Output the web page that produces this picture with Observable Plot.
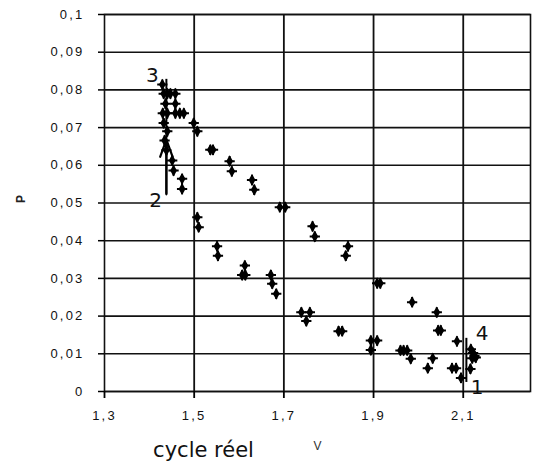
<!DOCTYPE html>
<html><head><meta charset="utf-8">
<script src="https://cdn.jsdelivr.net/npm/d3@7"></script>
<script src="https://cdn.jsdelivr.net/npm/@observablehq/plot@0.6"></script>
<style>
body{margin:0;background:#fff}
svg{display:block}
</style>
</head><body><div id="chart"></div>
<script>
// Measured points of the cycle (V, P)
const vValues = [1.429,1.432,1.440,1.447,1.458,1.436,1.458,1.430,1.440,1.458,1.468,1.477,1.432,1.499,1.440,1.507,1.434,1.438,1.536,1.542,1.451,1.454,1.473,1.473,1.579,1.584,1.629,1.634,1.691,1.703,1.507,1.510,1.551,1.553,1.613,1.607,1.614,1.671,1.674,1.683,1.764,1.769,1.843,1.838,1.908,1.915,1.739,1.758,1.750,1.822,1.830,1.894,1.908,1.894,1.986,2.041,2.044,2.050,2.086,1.960,1.967,1.975,1.983,2.032,2.021,2.075,2.084,2.095,2.116,2.117,2.122,2.125,2.120,2.128];
const pValues = [0.0814,0.0790,0.0790,0.0790,0.0790,0.0763,0.0763,0.0738,0.0738,0.0738,0.0738,0.0738,0.0712,0.0712,0.0690,0.0690,0.0666,0.0640,0.0641,0.0641,0.0613,0.0586,0.0564,0.0537,0.0611,0.0584,0.0561,0.0535,0.0489,0.0489,0.0462,0.0436,0.0385,0.0360,0.0334,0.0309,0.0309,0.0309,0.0286,0.0259,0.0438,0.0411,0.0385,0.0360,0.0287,0.0287,0.0210,0.0210,0.0187,0.0160,0.0160,0.0135,0.0135,0.0110,0.0237,0.0210,0.0162,0.0162,0.0133,0.0109,0.0109,0.0109,0.0087,0.0088,0.0062,0.0062,0.0062,0.0036,0.0060,0.0112,0.0102,0.0094,0.0088,0.0090];

const xTicks = [1.3,1.5,1.7,1.9,2.1];
const xTickLabels = ["1,3","1,5","1,7","1,9","2,1"];
const yTicks = [0,0.01,0.02,0.03,0.04,0.05,0.06,0.07,0.08,0.09,0.1];
const yTickLabels = ["0","0,01","0,02","0,03","0,04","0,05","0,06","0,07","0,08","0,09","0,1"];

// Cycle corner labels
const cornerLabels = ["3","2","4","1"];
const cornerV = [1.407,1.414,2.142,2.131];
const cornerP = [0.0838,0.0507,0.0154,0.0010];

// Vertical transformation segments
const seg23 = {v:1.438, pLow:0.0523, pHigh:0.0828, pArrowTip:0.0668};
const seg41 = {v:2.107, pLow:0.0024, pHigh:0.0141};

const title = "cycle réel";
const xLabel = "V";
const yLabel = "P";

const points = vValues.map((v,i)=>({v, p:pValues[i]}));
const corners = cornerLabels.map((t,i)=>({t, v:cornerV[i], p:cornerP[i]}));

const chart = Plot.plot({
  width:537, height:468,
  marginLeft:104, marginRight:7, marginTop:14, marginBottom:77,
  style:{fontFamily:"'Liberation Sans', Arial, sans-serif", background:"#fff"},
  x:{domain:[1.3,2.25]},
  y:{domain:[0,0.1]},
  marks:[
    Plot.gridY(yTicks,{stroke:"#111", strokeOpacity:1, strokeWidth:1.6}),
    Plot.gridX(xTicks.slice(1),{stroke:"#111", strokeOpacity:1, strokeWidth:1.8}),
    Plot.frame({stroke:"#111", strokeWidth:1.6}),
    Plot.axisY(yTicks,{tickFormat:(d)=>yTickLabels[yTicks.indexOf(d)], tickSize:6, tickPadding:14, strokeWidth:1.5, label:null, fill:"#111", fontSize:13}),
    Plot.axisX(xTicks,{tickFormat:(d)=>xTickLabels[xTicks.indexOf(d)], tickSize:7, tickPadding:12, strokeWidth:1.8, label:null, fill:"#111", fontSize:13}),
    Plot.ruleX([seg23],{x:"v", y1:"pLow", y2:"pHigh", stroke:"#000", strokeWidth:2}),
    Plot.arrow([seg23],{x1:"v", y1:"pLow", x2:"v", y2:"pArrowTip", stroke:"#000", strokeWidth:2.2, headLength:16, headAngle:40}),
    Plot.ruleX([seg41],{x:"v", y1:"pLow", y2:"pHigh", stroke:"#000", strokeWidth:2}),
    Plot.dot(points,{x:"v", y:"p", symbol:"diamond", r:3.6, fill:"#000"}),
    Plot.dot(points,{x:"v", y:"p", symbol:"plus", r:3.4, stroke:"#000", strokeWidth:2}),
    Plot.text(corners,{x:"v", y:"p", text:"t", fontFamily:"'DejaVu Sans', sans-serif", fontSize:20, fill:"#111"}),
    Plot.text([yLabel],{frameAnchor:"left", dx:-83, rotate:-90, fontSize:12, fontWeight:"bold", fill:"#222"}),
    Plot.text([xLabel],{frameAnchor:"bottom", dy:58, fontSize:12, fill:"#333"}),
    Plot.text([title],{frameAnchor:"bottom", dx:-114, dy:65, fontFamily:"'DejaVu Sans', sans-serif", fontSize:21, fill:"#111"})
  ]
});
d3.select(chart).selectAll("g[aria-label='y-axis tick label'], g[aria-label='x-axis tick label']")
  .attr("letter-spacing","2.2px");
document.getElementById("chart").append(chart);
</script>
</body></html>
